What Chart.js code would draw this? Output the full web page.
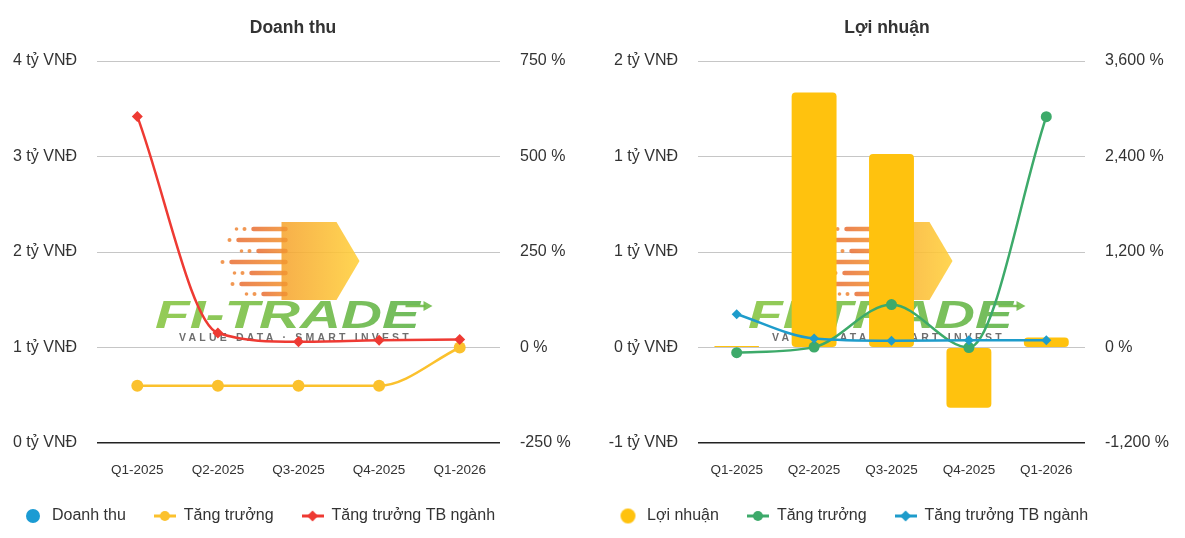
<!DOCTYPE html>
<html>
<head>
<meta charset="utf-8">
<script src="https://cdn.jsdelivr.net/npm/chart.js@4.4.1/dist/chart.umd.min.js"></script>
<style>
  html, body { margin: 0; padding: 0; background: #fff; }
  body { width: 1185px; height: 538px; position: relative; overflow: hidden; }
  .panel { position: absolute; top: 0; height: 538px; }
  #p1 { left: -6px; width: 598px; }
  #p2 { left: 589px; width: 596px; }
</style>
</head>
<body>
<div class="panel" id="p1"><canvas id="c1"></canvas></div>
<div class="panel" id="p2"><canvas id="c2"></canvas></div>
<script>
// ---------- DATA ----------
const quarters = ['Q1-2025', 'Q2-2025', 'Q3-2025', 'Q4-2025', 'Q1-2026'];

// Doanh thu (tỷ VNĐ) and growth (%)
const revenueTy = [0, 0, 0, 0, 0];
const revenueGrowthPct = [-100, -100, -100, -100, 0];
const revenueIndustryPct = [605, 38, 15, 19, 21];

// Lợi nhuận (tỷ VNĐ) and growth (%)
const profitTy = [0.01, 1.78, 1.35, -0.42, 0.07];
const profitGrowthPct = [-65, 5, 540, 0, 2900];
const profitIndustryPct = [418, 113, 85, 90, 92];

// Axis tick values
const revenueAxisTicks = [0, 1, 2, 3, 4];
const revenuePctTicks = [-250, 0, 250, 500, 750];
const profitAxisTicks = [-2 / 3, 0, 2 / 3, 4 / 3, 2];
const profitPctTicks = [-1200, 0, 1200, 2400, 3600];

// ---------- STYLE ----------
const FONT = '"Liberation Sans", Arial, Helvetica, sans-serif';
Chart.defaults.font.family = FONT;
Chart.defaults.color = '#333';

const C = {
  blue: '#1B9BD3',
  yellowLine: '#FBC12D',
  red: '#EE3A33',
  bar: '#FFC20E',
  green: '#3DAA6A',
  cyan: '#1E9CCB',
  grid: '#C6C6C6',
  base: '#222'
};

function circleIcon(color, r) {
  const c = document.createElement('canvas');
  c.width = 2 * r + 2; c.height = 2 * r + 2;
  const x = c.getContext('2d');
  x.fillStyle = color;
  x.beginPath(); x.arc(r + 1, r + 1, r, 0, Math.PI * 2); x.fill();
  return c;
}
function lineIcon(color, marker) {
  const c = document.createElement('canvas');
  c.width = 22; c.height = 14;
  const x = c.getContext('2d');
  x.strokeStyle = color; x.lineWidth = 3;
  x.beginPath(); x.moveTo(0, 7); x.lineTo(22, 7); x.stroke();
  x.fillStyle = color;
  x.beginPath();
  if (marker === 'circle') { x.arc(11, 7, 5, 0, Math.PI * 2); }
  else { x.moveTo(11, 1.5); x.lineTo(16.5, 7); x.lineTo(11, 12.5); x.lineTo(5.5, 7); x.closePath(); }
  x.fill();
  return c;
}

function drawLogo(chart) {
  const ca = chart.chartArea;
  const ctx = chart.ctx;
  const cx = (ca.left + ca.right) / 2 - 5;
  const t = ca.top;
  const Y = v => t + (v - 61);
  ctx.save();
  ctx.globalAlpha = 0.88;
  // chevron
  const g = ctx.createLinearGradient(cx - 30, 0, cx + 67, 0);
  g.addColorStop(0, '#F39A2F'); g.addColorStop(1, '#FFD03A');
  ctx.fillStyle = g;
  ctx.beginPath();
  ctx.moveTo(cx - 12, Y(222)); ctx.lineTo(cx + 43, Y(222)); ctx.lineTo(cx + 66, Y(261));
  ctx.lineTo(cx + 43, Y(300)); ctx.lineTo(cx - 12, Y(300)); ctx.closePath(); ctx.fill();
  // speed stripes
  const ys = [229, 240, 251, 262, 273, 284, 294];
  const xs = [-40, -55, -35, -62, -42, -52, -30];
  ctx.lineCap = 'round'; ctx.lineWidth = 4.5;
  ys.forEach((yy, i) => {
    const sg = ctx.createLinearGradient(cx + xs[i], 0, cx, 0);
    sg.addColorStop(0, '#E9733A'); sg.addColorStop(1, '#F39A2F');
    ctx.strokeStyle = sg;
    ctx.beginPath(); ctx.moveTo(cx + xs[i], Y(yy)); ctx.lineTo(cx - 8, Y(yy)); ctx.stroke();
    ctx.fillStyle = '#EF8A3C';
    ctx.beginPath(); ctx.arc(cx + xs[i] - 9, Y(yy), 2, 0, Math.PI * 2); ctx.fill();
    if (i % 2 === 0) { ctx.beginPath(); ctx.arc(cx + xs[i] - 17, Y(yy), 1.8, 0, Math.PI * 2); ctx.fill(); }
  });
  // FI-TRADE text
  ctx.save();
  ctx.font = 'italic bold 38px ' + FONT;
  const w = ctx.measureText('FI-TRADE').width;
  const sx = 265 / w;
  ctx.translate(cx - 6, Y(328));
  ctx.scale(sx, 1);
  const tg = ctx.createLinearGradient(-w / 2, 0, w / 2, 0);
  tg.addColorStop(0, '#86C440'); tg.addColorStop(1, '#5DB247');
  ctx.fillStyle = tg;
  ctx.textAlign = 'center'; ctx.textBaseline = 'alphabetic';
  ctx.fillText('FI-TRADE', 0, 0);
  ctx.restore();
  // small arrow
  ctx.strokeStyle = '#6DBA45'; ctx.fillStyle = '#6DBA45'; ctx.lineWidth = 2.5; ctx.lineCap = 'butt';
  ctx.beginPath(); ctx.moveTo(cx + 112, Y(306)); ctx.lineTo(cx + 132, Y(306)); ctx.stroke();
  ctx.beginPath(); ctx.moveTo(cx + 130, Y(301)); ctx.lineTo(cx + 139, Y(306)); ctx.lineTo(cx + 130, Y(311)); ctx.closePath(); ctx.fill();
  // tagline
  ctx.fillStyle = '#5A5A5A';
  ctx.font = 'bold 10.5px ' + FONT;
  if ('letterSpacing' in ctx) ctx.letterSpacing = '3.2px';
  ctx.textAlign = 'center'; ctx.textBaseline = 'alphabetic';
  ctx.fillText('VALUE DATA · SMART INVEST', cx + 2, Y(341));
  ctx.restore();
}
const logoPlugin = { id: 'logo', beforeDatasetsDraw(chart) { drawLogo(chart); } };

function setTicks(arr) {
  return function (axis) { axis.ticks = arr.map(v => ({ value: v })); };
}
const pctFmt = v => Number(v).toLocaleString('en-US') + ' %';

function makeChart(id, cfg) {
  const { title, leftTicks, rightTicks, leftFmt, leftW, rightW, datasets, icons } = cfg;
  return new Chart(document.getElementById(id), {
    type: 'bar',
    data: { labels: quarters, datasets },
    plugins: [logoPlugin],
    options: {
      responsive: true,
      maintainAspectRatio: false,
      animation: false,
      layout: { padding: { left: 0, right: 0, top: 0, bottom: 4 } },
      plugins: {
        title: {
          display: true, text: title, color: '#333',
          font: { size: 17.5, weight: 'bold' },
          padding: { top: 18, bottom: 22 }
        },
        legend: {
          position: 'bottom', align: 'start',
          labels: {
            usePointStyle: true, pointStyleWidth: 22, boxHeight: 16,
            padding: 28, color: '#333', font: { size: 16 },
            generateLabels: chart => chart.data.datasets.map((ds, i) => ({
              text: ds.label, pointStyle: icons[i], datasetIndex: i,
              hidden: !chart.isDatasetVisible(i), lineWidth: 0,
              fillStyle: 'rgba(0,0,0,0)', strokeStyle: 'rgba(0,0,0,0)', fontColor: '#333'
            }))
          }
        },
        tooltip: { enabled: false }
      },
      scales: {
        x: {
          grid: { display: false, drawTicks: false }, border: { display: false },
          ticks: { padding: 19, color: '#333', font: { size: 13.5 } },
          afterFit(s) { s.height = 37; }
        },
        y: {
          position: 'left',
          min: leftTicks[0], max: leftTicks[leftTicks.length - 1],
          afterBuildTicks: setTicks(leftTicks),
          grid: {
            drawTicks: false,
            color: c => (c.index === 0 ? C.base : C.grid),
            lineWidth: c => (c.index === 0 ? 1.6 : 1)
          },
          border: { display: false },
          ticks: { padding: 20, color: '#333', font: { size: 16 }, callback: leftFmt },
          afterFit(s) { s.width = leftW; }
        },
        y1: {
          position: 'right',
          min: rightTicks[0], max: rightTicks[rightTicks.length - 1],
          afterBuildTicks: setTicks(rightTicks),
          grid: { display: false, drawTicks: false },
          border: { display: false },
          ticks: { padding: 20, color: '#333', font: { size: 16 }, callback: pctFmt },
          afterFit(s) { s.width = rightW; }
        }
      }
    }
  });
}

const lineBase = { type: 'line', yAxisID: 'y1', borderWidth: 2.5, cubicInterpolationMode: 'monotone', fill: false, pointBorderWidth: 0 };
const barBase = { type: 'bar', yAxisID: 'y', barPercentage: 0.58, categoryPercentage: 1, borderRadius: 4, borderSkipped: false };

makeChart('c1', {
  title: 'Doanh thu',
  leftTicks: revenueAxisTicks, rightTicks: revenuePctTicks,
  leftFmt: v => v + ' tỷ VNĐ',
  leftW: 103, rightW: 92,
  icons: [circleIcon(C.blue, 7), lineIcon(C.yellowLine, 'circle'), lineIcon(C.red, 'diamond')],
  datasets: [
    Object.assign({}, barBase, { label: 'Doanh thu', data: revenueTy, backgroundColor: C.blue, order: 3 }),
    Object.assign({}, lineBase, { label: 'Tăng trưởng', data: revenueGrowthPct, borderColor: C.yellowLine,
      backgroundColor: C.yellowLine, pointStyle: 'circle', pointRadius: 6, order: 2 }),
    Object.assign({}, lineBase, { label: 'Tăng trưởng TB ngành', data: revenueIndustryPct, borderColor: C.red,
      backgroundColor: C.red, pointStyle: 'rectRot', pointRadius: 5.5, order: 1 })
  ]
});

makeChart('c2', {
  title: 'Lợi nhuận',
  leftTicks: profitAxisTicks, rightTicks: profitPctTicks,
  leftFmt: v => Math.round(v) + ' tỷ VNĐ',
  leftW: 109, rightW: 100,
  icons: [circleIcon(C.bar, 7.5), lineIcon(C.green, 'circle'), lineIcon(C.cyan, 'diamond')],
  datasets: [
    Object.assign({}, barBase, { label: 'Lợi nhuận', data: profitTy, backgroundColor: C.bar, order: 3 }),
    Object.assign({}, lineBase, { label: 'Tăng trưởng', data: profitGrowthPct, borderColor: C.green,
      backgroundColor: C.green, pointStyle: 'circle', pointRadius: 5.5, order: 2 }),
    Object.assign({}, lineBase, { label: 'Tăng trưởng TB ngành', data: profitIndustryPct, borderColor: C.cyan,
      backgroundColor: C.cyan, pointStyle: 'rectRot', pointRadius: 5, order: 1 })
  ]
});
</script>
</body>
</html>
